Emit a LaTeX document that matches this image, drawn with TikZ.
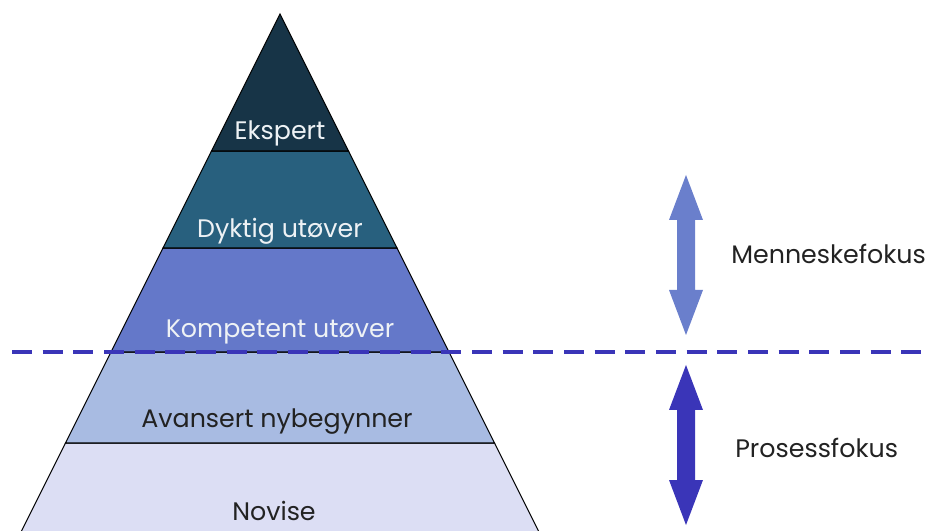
\documentclass[tikz,border=0pt]{standalone}
\usepackage{fontspec}
\setmainfont{Poppins}
\definecolor{cEksp}{HTML}{173447}
\definecolor{cDykt}{HTML}{28607E}
\definecolor{cKomp}{HTML}{6478C9}
\definecolor{cAvan}{HTML}{A8BBE2}
\definecolor{cNovi}{HTML}{DCDEF4}
\definecolor{cDash}{HTML}{3A35B8}
\definecolor{cUpArr}{HTML}{6A7FCC}
\definecolor{cLoArr}{HTML}{3A35B8}
\definecolor{cLight}{HTML}{EEF2F5}
\definecolor{cDark}{HTML}{222222}
\begin{document}
\begin{tikzpicture}[x=0.75pt,y=-0.75pt,
  band/.style={draw=black,line width=0.8pt,line join=miter},
  lbl/.style={font=\fontsize{19}{22}\selectfont,inner sep=0pt,anchor=base}]
\useasboundingbox (0,0) rectangle (926,531);
\begin{scope}
  \clip (0,0) rectangle (926,531);
  % pyramid levels, bottom to top
  \filldraw[band,fill=cNovi] (65.5,443) -- (494.5,443) -- (543,540) -- (17,540) -- cycle;
  \filldraw[band,fill=cAvan] (111,352) -- (449,352) -- (494.5,443) -- (65.5,443) -- cycle;
  \filldraw[band,fill=cKomp] (163,248) -- (397,248) -- (449,352) -- (111,352) -- cycle;
  \filldraw[band,fill=cDykt] (211.5,151) -- (348.5,151) -- (397,248) -- (163,248) -- cycle;
  \filldraw[band,fill=cEksp] (280,14) -- (348.5,151) -- (211.5,151) -- cycle;
\end{scope}
% level labels (placed on their baselines)
\node[lbl,text=cLight] (eksp) at (280,140) {Ekspert};
\node[lbl,text=cLight] (dykt) at (280,238) {Dyktig utøver};
\node[lbl,text=cLight] (komp) at (280,338) {Kompetent utøver};
\node[lbl,text=cDark] (avan) at (277,427) {Avansert nybegynner};
\node[lbl,text=cDark] (novi) at (274,520) {Novise};
% separator between the two focus areas
\draw[cDash,line width=3pt,dash pattern=on 15pt off 8pt] (12,352) -- (926,352);
% double arrows
\fill[cUpArr] (686,175) -- (703,220) -- (695,220) -- (695,290) -- (703,290) -- (686,335)
  -- (669,290) -- (677,290) -- (677,220) -- (669,220) -- cycle;
\fill[cLoArr] (686,365) -- (703,410) -- (695,410) -- (695,480) -- (703,480) -- (686,525)
  -- (669,480) -- (677,480) -- (677,410) -- (669,410) -- cycle;
% focus labels
\node[lbl,text=cDark,anchor=base west] (menn) at (731,264) {Menneskefokus};
\node[lbl,text=cDark,anchor=base west] (pros) at (735,457) {Prosessfokus};
\end{tikzpicture}
\end{document}
